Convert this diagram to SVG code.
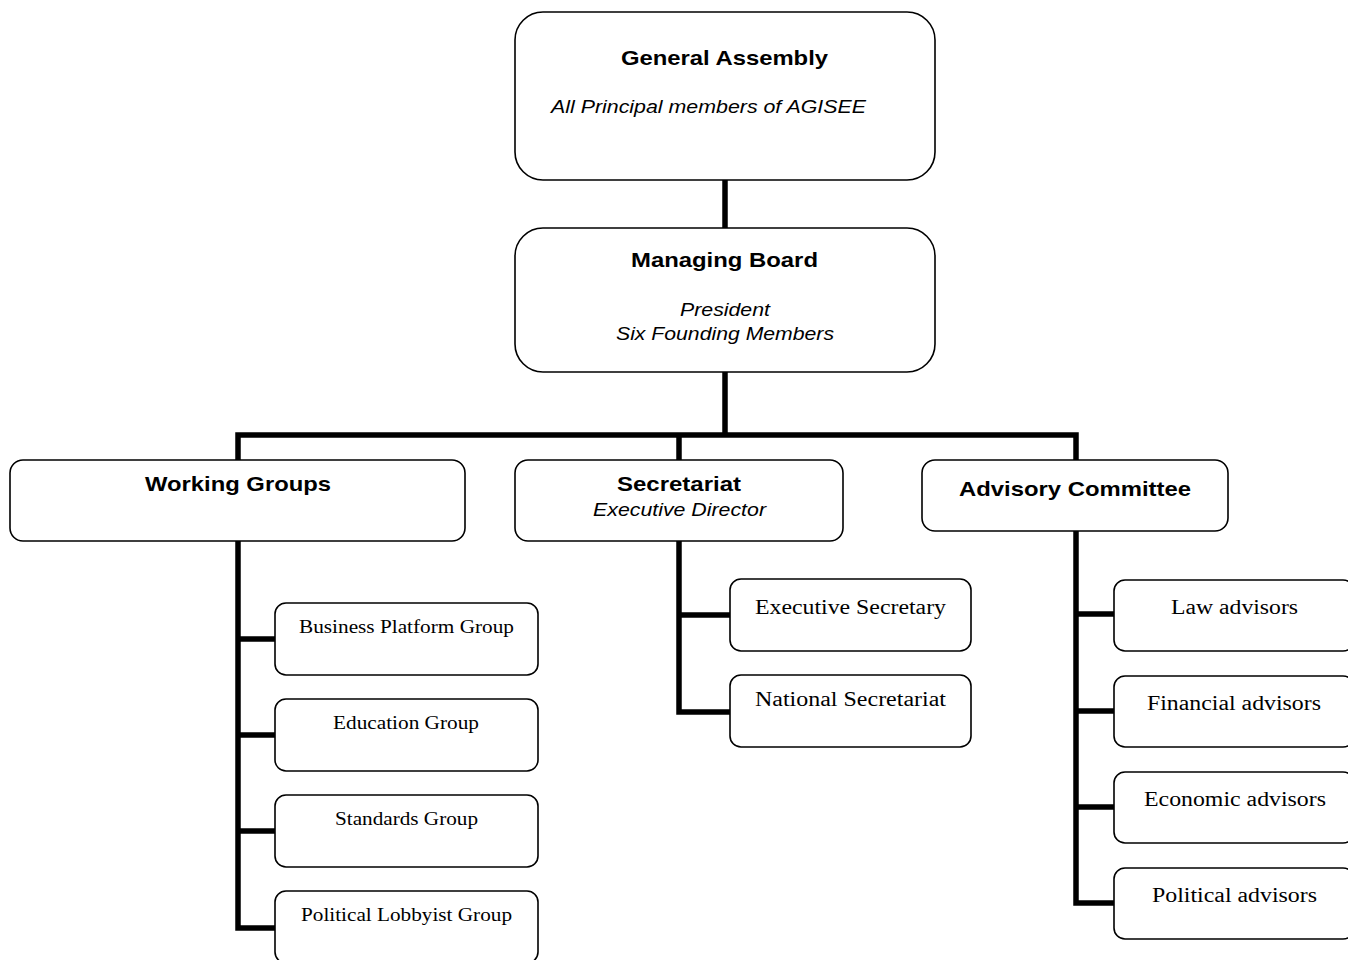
<svg xmlns="http://www.w3.org/2000/svg" width="1348" height="960" viewBox="0 0 1348 960">
<style>
.box{fill:#fff;stroke:#000;stroke-width:1.6}
.con{fill:none;stroke:#000;stroke-width:5.5;stroke-linejoin:miter;stroke-linecap:square}
.b{font-family:"Liberation Sans",Arial,sans-serif;font-weight:bold;font-size:21px;text-anchor:middle}
.i{font-family:"Liberation Sans",Arial,sans-serif;font-style:italic;font-size:19px;text-anchor:middle}
.s{font-family:"Liberation Serif","Times New Roman",serif;font-size:19px;text-anchor:middle}
.s2{font-family:"Liberation Serif","Times New Roman",serif;font-size:20.5px;text-anchor:middle}
</style>
<rect width="1348" height="960" fill="#fff"/>
<g id="connectors">
<path class="con" d="M725,180 V228"/>
<path class="con" d="M725,372 V435 M238,460 V435 H1076 V460 M679,435 V460"/>
<path class="con" d="M238,541 V928 M238,639 H275 M238,735 H275 M238,831 H275 M238,928 H275"/>
<path class="con" d="M679,541 V712 H730 M679,615 H730"/>
<path class="con" d="M1076,531 V903 H1114 M1076,614 H1114 M1076,711 H1114 M1076,807 H1114"/>
</g>
<g id="general-assembly">
<rect class="box" x="515" y="12" width="420" height="168" rx="28"/>
<text class="b" x="724.5" y="65" textLength="207" lengthAdjust="spacingAndGlyphs">General Assembly</text>
<text class="i" x="708.5" y="113" textLength="315" lengthAdjust="spacingAndGlyphs">All Principal members of AGISEE</text>
</g>
<g id="managing-board">
<rect class="box" x="515" y="228" width="420" height="144" rx="28"/>
<text class="b" x="724.5" y="267" textLength="187" lengthAdjust="spacingAndGlyphs">Managing Board</text>
<text class="i" x="725" y="316" textLength="90" lengthAdjust="spacingAndGlyphs">President</text>
<text class="i" x="725" y="340" textLength="218" lengthAdjust="spacingAndGlyphs">Six Founding Members</text>
</g>
<g id="working-groups">
<rect class="box" x="10" y="460" width="455" height="81" rx="13"/>
<text class="b" x="238" y="491" textLength="186" lengthAdjust="spacingAndGlyphs">Working Groups</text>
</g>
<g id="secretariat">
<rect class="box" x="515" y="460" width="328" height="81" rx="13"/>
<text class="b" x="679" y="491" textLength="124" lengthAdjust="spacingAndGlyphs">Secretariat</text>
<text class="i" x="679.5" y="516" textLength="173" lengthAdjust="spacingAndGlyphs">Executive Director</text>
</g>
<g id="advisory-committee">
<rect class="box" x="922" y="460" width="306" height="71" rx="13"/>
<text class="b" x="1075" y="496" textLength="232" lengthAdjust="spacingAndGlyphs">Advisory Committee</text>
</g>
<g id="business-platform-group">
<rect class="box" x="275" y="603" width="263" height="72" rx="11"/>
<text class="s" x="406.5" y="633" textLength="215" lengthAdjust="spacingAndGlyphs">Business Platform Group</text>
</g>
<g id="education-group">
<rect class="box" x="275" y="699" width="263" height="72" rx="11"/>
<text class="s" x="406" y="729" textLength="146" lengthAdjust="spacingAndGlyphs">Education Group</text>
</g>
<g id="standards-group">
<rect class="box" x="275" y="795" width="263" height="72" rx="11"/>
<text class="s" x="406.5" y="825" textLength="143" lengthAdjust="spacingAndGlyphs">Standards Group</text>
</g>
<g id="political-lobbyist-group">
<rect class="box" x="275" y="891" width="263" height="72" rx="11"/>
<text class="s" x="406.5" y="921" textLength="211" lengthAdjust="spacingAndGlyphs">Political Lobbyist Group</text>
</g>
<g id="executive-secretary">
<rect class="box" x="730" y="579" width="241" height="72" rx="11"/>
<text class="s2" x="850.5" y="614" textLength="191" lengthAdjust="spacingAndGlyphs">Executive Secretary</text>
</g>
<g id="national-secretariat">
<rect class="box" x="730" y="675" width="241" height="72" rx="11"/>
<text class="s2" x="850.5" y="706" textLength="191" lengthAdjust="spacingAndGlyphs">National Secretariat</text>
</g>
<g id="law-advisors">
<rect class="box" x="1114" y="580" width="240" height="71" rx="11"/>
<text class="s2" x="1234.5" y="614" textLength="127" lengthAdjust="spacingAndGlyphs">Law advisors</text>
</g>
<g id="financial-advisors">
<rect class="box" x="1114" y="676" width="240" height="71" rx="11"/>
<text class="s2" x="1234" y="710" textLength="174" lengthAdjust="spacingAndGlyphs">Financial advisors</text>
</g>
<g id="economic-advisors">
<rect class="box" x="1114" y="772" width="240" height="71" rx="11"/>
<text class="s2" x="1235" y="806" textLength="182" lengthAdjust="spacingAndGlyphs">Economic advisors</text>
</g>
<g id="political-advisors">
<rect class="box" x="1114" y="868" width="240" height="71" rx="11"/>
<text class="s2" x="1234.5" y="902" textLength="165" lengthAdjust="spacingAndGlyphs">Political advisors</text>
</g>
</svg>
